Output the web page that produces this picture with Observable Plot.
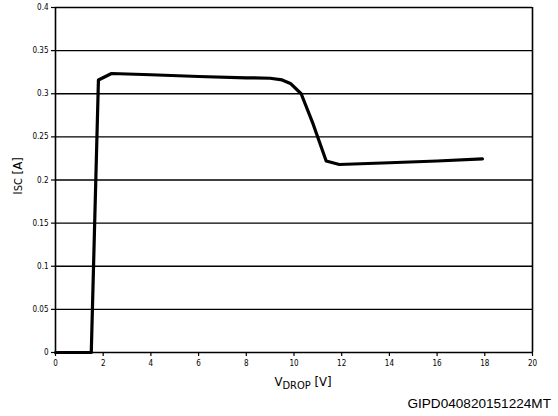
<!DOCTYPE html>
<html><head><meta charset="utf-8">
<script src="https://cdn.jsdelivr.net/npm/d3@7"></script>
<script src="https://cdn.jsdelivr.net/npm/@observablehq/plot@0.6"></script>
<style>
body{margin:0;background:#fff;}
svg{display:block;}
</style>
</head><body>
<div id="chart"></div>
<script>
const vDrop = [0, 1.5, 1.8, 2.35, 4, 6, 8, 9, 9.5, 9.85, 10.3, 10.8, 11.35, 11.9, 14, 16, 17.9];
const iSc   = [0, 0, 0.316, 0.3235, 0.322, 0.320, 0.3185, 0.318, 0.316, 0.312, 0.300, 0.265, 0.222, 0.218, 0.220, 0.222, 0.2245];
const xTicks = [0, 2, 4, 6, 8, 10, 12, 14, 16, 18, 20];
const yTicks = [0, 0.05, 0.1, 0.15, 0.2, 0.25, 0.3, 0.35, 0.4];
const caption = "GIPD040820151224MT";

const data = vDrop.map((v, i) => ({v, i: iSc[i]}));
const narrow = "'Liberation Sans Narrow', 'Arial Narrow', 'DejaVu Sans Condensed', sans-serif";

const chart = Plot.plot({
  width: 558, height: 416,
  marginLeft: 55, marginRight: 26, marginTop: 7, marginBottom: 64,
  style: {fontFamily: narrow, fontSize: "8px", color: "#000", background: "#fff"},
  x: {domain: [0, 20], ticks: xTicks, tickSize: 4, tickPadding: 4, label: null, tickFormat: d => String(d)},
  y: {domain: [0, 0.4], ticks: yTicks, tickSize: 4, tickPadding: 3, label: null, tickFormat: d => String(d)},
  marks: [
    Plot.ruleY(yTicks, {stroke: "#000", strokeWidth: 1.4}),
    Plot.ruleX([0, 20], {stroke: "#000", strokeWidth: 1.6}),
    Plot.axisX({ticks: xTicks, tickSize: 4, tickPadding: 4, fontSize: 8, stroke: "#000", strokeWidth: 1.2, label: null, tickFormat: d => String(d)}),
    Plot.axisY({ticks: yTicks, tickSize: 4, tickPadding: 3, fontSize: 8, stroke: "#000", strokeWidth: 1.2, label: null, tickFormat: d => String(d)}),
    Plot.line(data, {x: "v", y: "i", stroke: "#000", strokeWidth: 3.2, strokeLinejoin: "round"})
  ]
});
document.getElementById("chart").appendChild(chart);

const svg = d3.select(chart);
// y axis label
const yl = svg.append("text")
  .attr("transform", "translate(22,176) rotate(-90)")
  .attr("text-anchor", "middle")
  .attr("font-family", narrow)
  .attr("font-size", 13)
  .attr("fill", "#000");
yl.append("tspan").text("I");
yl.append("tspan").attr("font-size", 11).text("SC");
yl.append("tspan").text(" [A]");
// x axis label
const xl = svg.append("text")
  .attr("x", 303).attr("y", 386)
  .attr("text-anchor", "middle")
  .attr("font-family", narrow)
  .attr("font-size", 13)
  .attr("fill", "#000");
xl.append("tspan").text("V");
xl.append("tspan").attr("font-size", 11).attr("dy", 3).text("DROP");
xl.append("tspan").attr("dy", -3).text(" [V]");
// caption
svg.append("text")
  .attr("x", 551).attr("y", 408)
  .attr("text-anchor", "end")
  .attr("font-family", "'Liberation Sans', Arial, sans-serif")
  .attr("font-size", 13.6)
  .attr("fill", "#000")
  .text(caption);
</script>
</body></html>
